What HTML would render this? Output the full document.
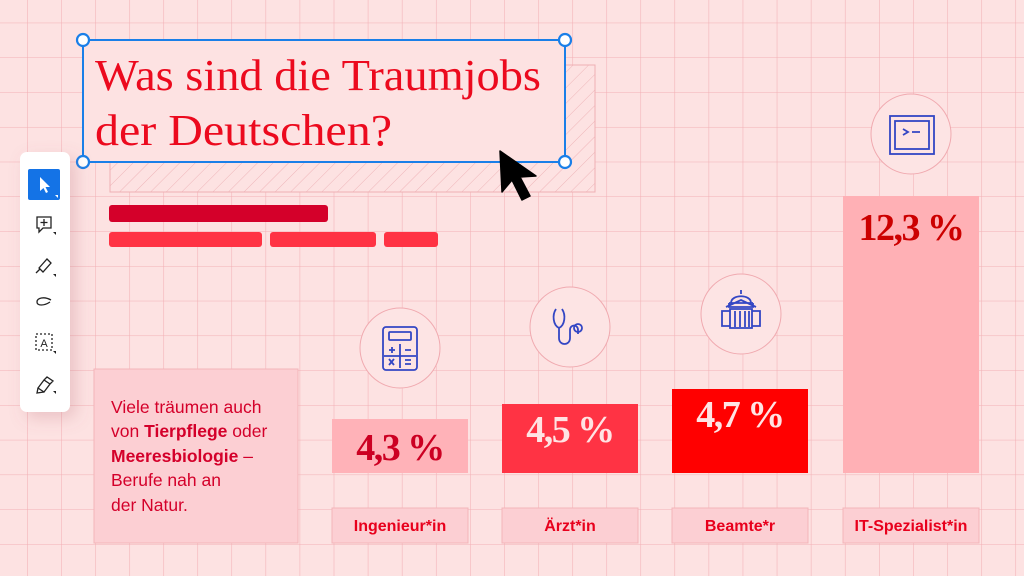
<!DOCTYPE html>
<html><head><meta charset="utf-8"><style>
html,body{margin:0;padding:0;width:1024px;height:576px;overflow:hidden;background:#fde2e2;}
svg{display:block}
.serif{font-family:"Liberation Serif",serif}
.sans{font-family:"Liberation Sans",sans-serif}
</style></head><body>
<svg width="1024" height="576" viewBox="0 0 1024 576" xmlns="http://www.w3.org/2000/svg">
<defs>
<pattern id="grid" x="27" y="22.7" width="34.08" height="34.76" patternUnits="userSpaceOnUse">
<path d="M0 0H34.08M0 0V34.76" stroke="#f2b0b5" stroke-width="1.1" fill="none"/>
</pattern>
<pattern id="hatch" width="11" height="11" patternUnits="userSpaceOnUse" patternTransform="rotate(45)">
<line x1="0" y1="0" x2="0" y2="11" stroke="#eeb0b4" stroke-width="0.9"/>
</pattern>
<filter id="sh" x="-50%" y="-20%" width="200%" height="140%"><feDropShadow dx="6" dy="6" stdDeviation="8" flood-color="#b06070" flood-opacity="0.25"/></filter>
</defs>
<rect width="1024" height="576" fill="#fde2e2"/>
<rect width="1024" height="576" fill="url(#grid)"/>

<rect x="110" y="65" width="485" height="127" fill="#fde2e2"/>
<rect x="110" y="65" width="485" height="127" fill="url(#hatch)" stroke="#eeb0b4" stroke-width="1"/>
<rect x="83" y="40" width="482" height="122" fill="#fde2e2"/>
<text class="serif" x="95" y="90" font-size="44" fill="#ec0a1e" textLength="446" lengthAdjust="spacingAndGlyphs">Was sind die Traumjobs</text>
<text class="serif" x="95" y="145" font-size="44" fill="#ec0a1e" textLength="297" lengthAdjust="spacingAndGlyphs">der Deutschen?</text>
<rect x="83" y="40" width="482" height="122" fill="none" stroke="#1a7fe8" stroke-width="2"/>
<g fill="#fff" stroke="#1a7fe8" stroke-width="2.2">
<circle cx="83" cy="40" r="6"/><circle cx="565" cy="40" r="6"/><circle cx="83" cy="162" r="6"/><circle cx="565" cy="162" r="6"/>
</g>
<path d="M500 151 L502 192 L512 180 L522 200 L530 196 L520 177 L536 176 Z" fill="#000" stroke="#000" stroke-width="1.5" stroke-linejoin="round"/>

<rect x="109" y="205" width="219" height="17" rx="3" fill="#d4002a"/>
<rect x="109" y="232" width="153" height="15" rx="3" fill="#ff3344"/>
<rect x="270" y="232" width="106" height="15" rx="3" fill="#ff3344"/>
<rect x="384" y="232" width="54" height="15" rx="3" fill="#ff3344"/>

<rect x="94" y="369" width="204" height="174" fill="#fccfd3" stroke="#f3b5ba" stroke-width="1"/>
<g class="sans" font-size="17.5" fill="#d4002a">
<text x="111" y="413">Viele träumen auch</text>
<text x="111" y="437">von <tspan font-weight="bold">Tierpflege</tspan> oder</text>
<text x="111" y="462"><tspan font-weight="bold">Meeresbiologie</tspan> –</text>
<text x="111" y="486">Berufe nah an</text>
<text x="111" y="511">der Natur.</text>
</g>

<rect x="20" y="152" width="50" height="260" rx="7" fill="#fff" filter="url(#sh)"/>
<rect x="28" y="169" width="32" height="31" rx="2" fill="#1473e6"/>
<path d="M40 177 L40 191 L43.5 188 L46 193 L48 192 L45.5 187 L50 187 Z" fill="#fff"/>
<path d="M55 195 L58 195 L58 198 Z" fill="#fff"/>
<g fill="none" stroke="#222" stroke-width="1.3">
<path d="M37 217 H51 V228 H43 L39 232 V228 H37 Z"/><path d="M44 219 V226 M40.5 222.5 H47.5"/>
<path d="M39 268 L47 259 L51 263 L43 272 Z"/><path d="M36 273 L40 269"/>
<path d="M51 300 C44 296 37 298 37 302 C37 306 44 306 50 302"/>
<rect x="36" y="334" width="16" height="16" stroke-dasharray="2 2"/>
<path d="M38 388 L44 380 L50 384 L44 392 Z M38 388 L37 393 L44 392 M44 380 L47 377 L53 381 L50 384"/>
</g>
<text class="sans" x="44" y="347" font-size="11" text-anchor="middle" fill="#222">A</text>
<g fill="#222"><path d="M53 232 L56 232 L56 235 Z"/><path d="M53 274 L56 274 L56 277 Z"/><path d="M53 351 L56 351 L56 354 Z"/><path d="M53 391 L56 391 L56 394 Z"/></g>

<g fill="#fde4e4" stroke="#f0aab0" stroke-width="1">
<circle cx="400" cy="348" r="40"/><circle cx="570" cy="327" r="40"/><circle cx="741" cy="314" r="40"/><circle cx="911" cy="134" r="40"/>
</g>
<g fill="none" stroke="#3346c4" stroke-width="1.8">
<rect x="383" y="327" width="34" height="43" rx="3"/><rect x="389" y="332" width="22" height="8" rx="1"/>
<path d="M400 344 V368 M384 356 H416 M389 350 H395 M392 347 V353 M405 350 H411 M389 359 L394 365 M394 359 L389 365 M405 360 H411 M405 364 H411"/>
<path d="M556 309 C552 315 553 325 559 328 C565 325 566 315 562 309 M559 328 V338 C559 346 570 346 570 338 V330 C570 324 578 324 578 330 V334"/>
<circle cx="578" cy="328" r="4"/>
<path d="M731 303 C731 294 751 294 751 303 Z M741 290 V294 M729 303 H753 M729 303 V307 H753 V303 M726 307 L741 300 L756 307 M730 309 H752 V328 H730 Z M735 311 V327 M740 311 V327 M745 311 V327 M749 311 V327 M722 311 H730 V326 H722 Z M752 311 H760 V326 H752 Z"/>
<rect x="890" y="116" width="44" height="38"/><rect x="895" y="121" width="34" height="28"/>
<path d="M903 129 L908 132 L903 135 M912 132 H920"/>
</g>

<rect x="332" y="419" width="136" height="54" fill="#ffb2b8"/>
<rect x="502" y="404" width="136" height="69" fill="#ff3344"/>
<rect x="672" y="389" width="136" height="84" fill="#ff0000"/>
<rect x="843" y="196" width="136" height="277" fill="#ffb0b5"/>
<g class="serif" font-size="38" font-weight="bold" text-anchor="middle" letter-spacing="-1.5">
<text x="400" y="460" fill="#cc0022">4,3 %</text>
<text x="570" y="442" fill="#ffe3e3">4,5 %</text>
<text x="740" y="427" fill="#ffe3e3">4,7 %</text>
<text x="911" y="240" fill="#cc0000">12,3 %</text>
</g>

<g fill="#fccfd3" stroke="#f3b5ba" stroke-width="1">
<rect x="332" y="508" width="136" height="35"/><rect x="502" y="508" width="136" height="35"/><rect x="672" y="508" width="136" height="35"/><rect x="843" y="508" width="136" height="35"/>
</g>
<g class="sans" font-size="16" font-weight="bold" fill="#e8001c" text-anchor="middle">
<text x="400" y="531">Ingenieur*in</text>
<text x="570" y="531">Ärzt*in</text>
<text x="740" y="531">Beamte*r</text>
<text x="911" y="531">IT-Spezialist*in</text>
</g>
</svg>
</body></html>
